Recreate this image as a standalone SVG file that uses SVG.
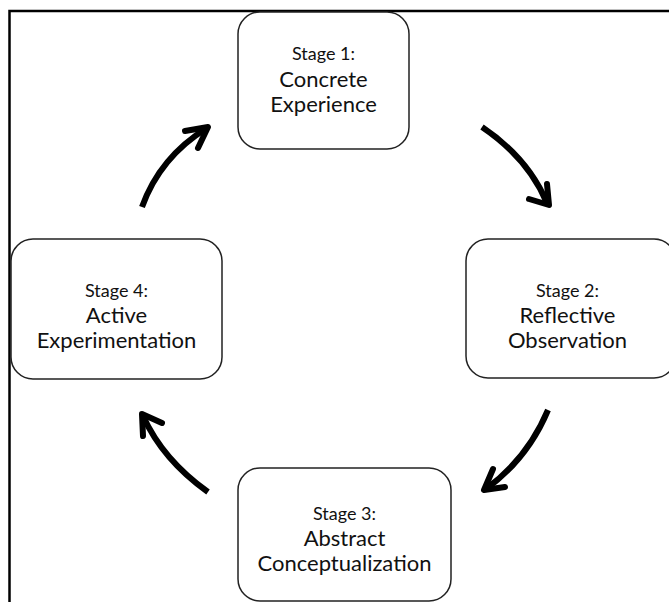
<svg xmlns="http://www.w3.org/2000/svg" width="669" height="602" viewBox="0 0 669 602">
<style>
.box{fill:#fff;stroke:#222;stroke-width:1.5}
.t{font-family:"Lato","Open Sans","Liberation Sans",sans-serif;fill:#111;text-anchor:middle}
.s{font-size:18px}
.m{font-size:22px}
.arr{fill:none;stroke:#000;stroke-width:6;stroke-linecap:butt}
.head{fill:none;stroke:#000;stroke-width:6;stroke-linecap:round;stroke-linejoin:round}
.frame{stroke:#000;stroke-width:2.5;fill:none}
</style>
<rect width="669" height="602" fill="#fff"/>
<g id="frame">
<path class="frame" d="M9.5,602 V11 H669"/>
</g>
<g id="connectors">
<path class="arr" d="M482,127 Q528,158 547,203"/>
<polyline class="head" points="547,184 549,205 529,199"/>
<path class="arr" d="M548,410 Q528,458 486,489"/>
<polyline class="head" points="493,469 484,490 505,487"/>
<path class="arr" d="M208,492 Q163,460 143,416"/>
<polyline class="head" points="143,436 142,414 162,423"/>
<path class="arr" d="M142,207 Q160,157 207,128"/>
<polyline class="head" points="185,131 208,127 198,148"/>
</g>
<g id="stage1">
<rect class="box" x="238" y="12" width="171" height="137" rx="22"/>
<text class="t s" x="323.5" y="60">Stage 1:</text>
<text class="t m" x="323.5" y="87">Concrete</text>
<text class="t m" x="323.5" y="112">Experience</text>
</g>
<g id="stage2">
<rect class="box" x="466" y="239" width="210" height="139" rx="22"/>
<text class="t s" x="567.5" y="297">Stage 2:</text>
<text class="t m" x="567.5" y="323">Reflective</text>
<text class="t m" x="567.5" y="348">Observation</text>
</g>
<g id="stage3">
<rect class="box" x="238" y="468" width="213" height="133" rx="22"/>
<text class="t s" x="344.5" y="520">Stage 3:</text>
<text class="t m" x="344.5" y="546">Abstract</text>
<text class="t m" x="344.5" y="571">Conceptualization</text>
</g>
<g id="stage4">
<rect class="box" x="11" y="239" width="211" height="140" rx="22"/>
<text class="t s" x="116.5" y="297">Stage 4:</text>
<text class="t m" x="116.5" y="323">Active</text>
<text class="t m" x="116.5" y="348">Experimentation</text>
</g>
</svg>
